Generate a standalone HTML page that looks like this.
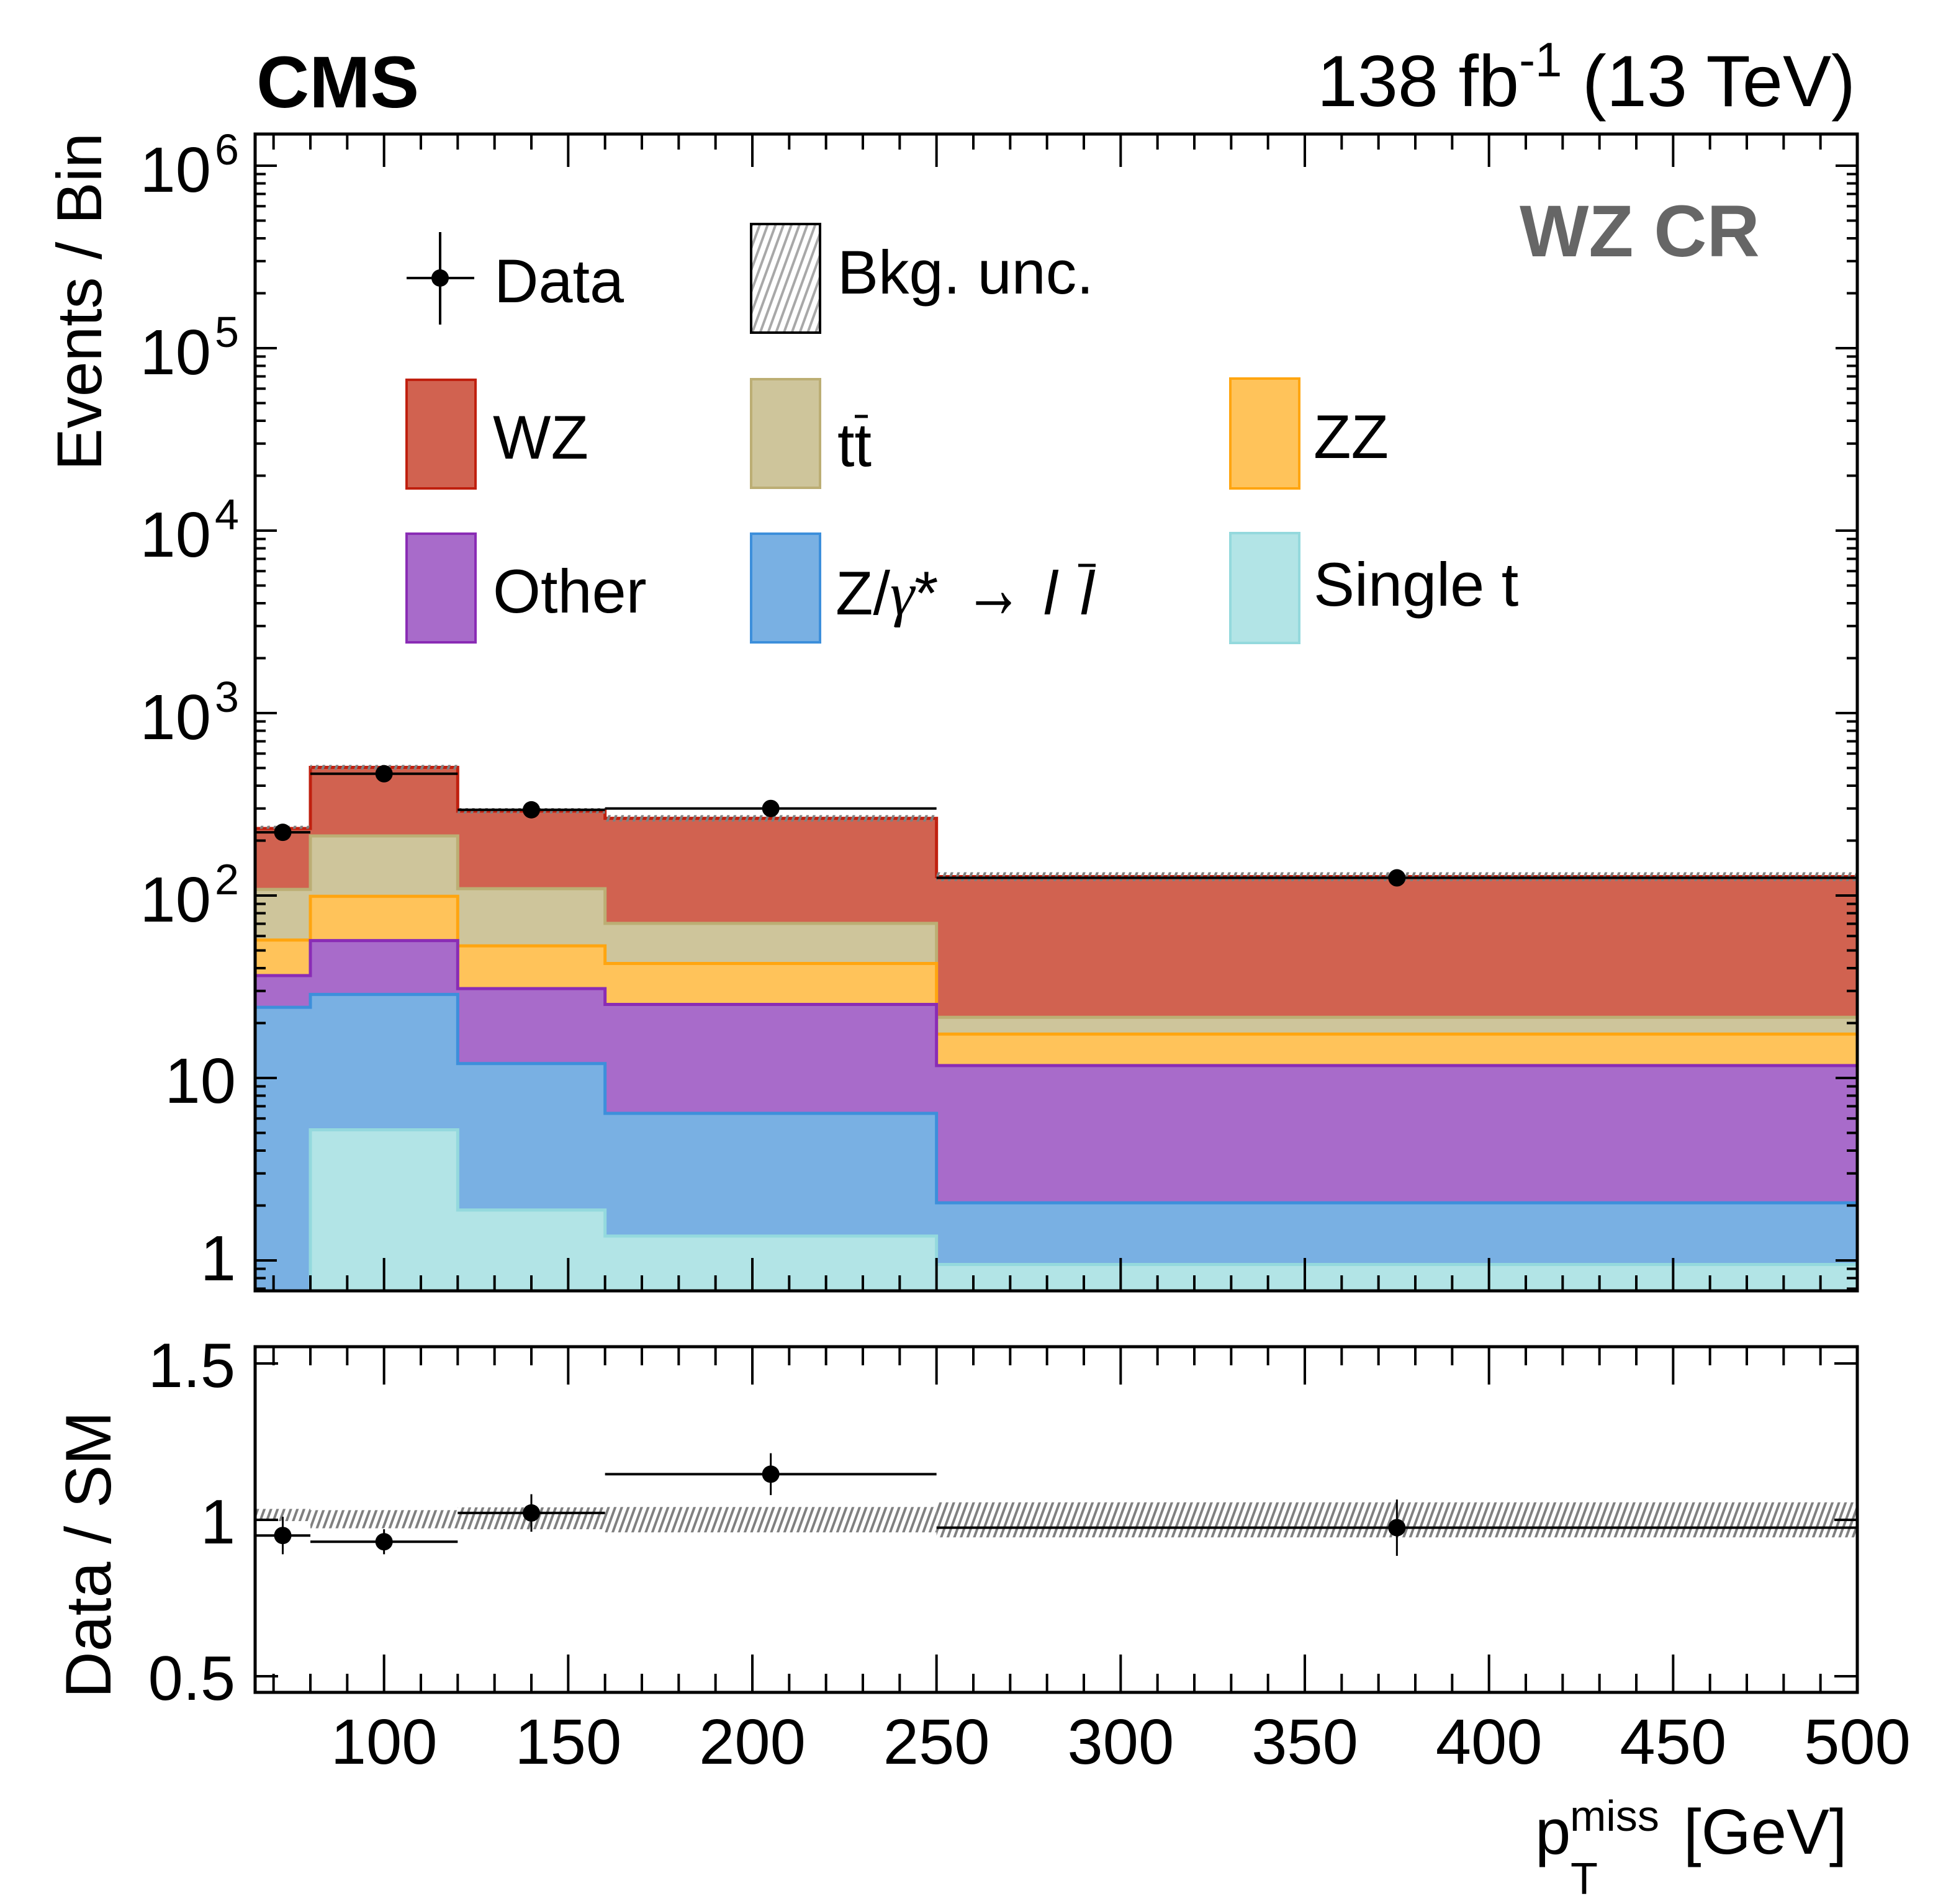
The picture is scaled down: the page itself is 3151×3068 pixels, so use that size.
<!DOCTYPE html>
<html><head><meta charset="utf-8"><title>WZ CR pTmiss</title>
<style>html,body{margin:0;padding:0;background:#fff;}svg{display:block;}text{font-family:"Liberation Sans",sans-serif;}</style>
</head><body>
<svg id="chart" xmlns="http://www.w3.org/2000/svg" width="3151" height="3068" viewBox="0 0 3151 3068">
<defs>
<pattern id="hatch" patternUnits="userSpaceOnUse" width="10" height="10" patternTransform="rotate(20)">
<rect width="10" height="10" fill="none"/><line x1="2" y1="0" x2="2" y2="10" stroke="#808080" stroke-width="4"/>
</pattern>
<pattern id="hatchL" patternUnits="userSpaceOnUse" width="12" height="12" patternTransform="rotate(20)">
<rect width="12" height="12" fill="#fff"/><line x1="2" y1="0" x2="2" y2="12" stroke="#a8a8a8" stroke-width="4"/>
</pattern>
<clipPath id="mainClip"><rect x="411" y="216" width="2581" height="1864"/></clipPath>
<clipPath id="ratioClip"><rect x="411" y="2170" width="2581" height="557"/></clipPath>
</defs>
<g id="stack" clip-path="url(#mainClip)"></g>
<g id="mainData"></g>
<g id="ratio" clip-path="url(#ratioClip)"></g>
<g id="axes"></g>

<text x="413" y="173" font-size="118" font-weight="bold">CMS</text>
<text x="2989" y="171" font-size="117" text-anchor="end">138 fb<tspan dy="-48" font-size="78">-1</tspan><tspan dy="48"> (13 TeV)</tspan></text>
<text x="2448" y="413" font-size="118" font-weight="bold" fill="#666">WZ CR</text>
<text transform="translate(163,214) rotate(-90)" font-size="102" text-anchor="end">Events / Bin</text>
<text transform="translate(178,2274) rotate(-90)" font-size="104" text-anchor="end">Data / SM</text>
<g>
<text x="2473" y="2987" font-size="103">p</text>
<text x="2529" y="2950" font-size="70">miss</text>
<text x="2530" y="3052" font-size="72">T</text>
<text x="2712" y="2987" font-size="103">[GeV]</text>
</g>

<g id="legend">
<g>
<line x1="655" y1="448" x2="764" y2="448" stroke="#000" stroke-width="4"/>
<line x1="709" y1="374" x2="709" y2="523" stroke="#000" stroke-width="4"/>
<circle cx="709" cy="448" r="14" fill="#000"/>
<text x="796" y="487" font-size="99">Data</text>
</g>
<g>
<rect x="1210" y="361" width="111" height="175" fill="url(#hatchL)" stroke="#000" stroke-width="4"/>
<text x="1349" y="473" font-size="99">Bkg. unc.</text>
</g>
<g>
<rect x="655" y="612" width="111" height="175" fill="#d16250" stroke="#c0200f" stroke-width="4"/>
<text x="794" y="739" font-size="99">WZ</text>
</g>
<g>
<rect x="1210" y="611" width="111" height="175" fill="#cec59b" stroke="#bcae74" stroke-width="4"/>
<text x="1349" y="751" font-size="99">tt</text>
<line x1="1377" y1="671" x2="1398" y2="671" stroke="#000" stroke-width="5"/>
</g>
<g>
<rect x="1982" y="610" width="111" height="177" fill="#ffc35a" stroke="#ffa510" stroke-width="4"/>
<text x="2116" y="738" font-size="99">ZZ</text>
</g>
<g>
<rect x="655" y="860" width="111" height="175" fill="#a86bca" stroke="#8a2cb5" stroke-width="4"/>
<text x="794" y="987" font-size="99">Other</text>
</g>
<g>
<rect x="1210" y="860" width="111" height="175" fill="#79b0e3" stroke="#3d8fdb" stroke-width="4"/>
<text x="1346" y="990" font-size="99">Z/<tspan font-family="Liberation Serif, serif" font-style="italic">γ</tspan>*</text>
<text x="1553" y="995" font-size="140" font-family="DejaVu Sans, sans-serif" textLength="95" lengthAdjust="spacingAndGlyphs">→</text>
<text x="1681" y="990" font-size="99" font-family="Liberation Serif, serif" font-style="italic">l</text>
<text x="1740" y="990" font-size="99" font-family="Liberation Serif, serif" font-style="italic">l</text>
<line x1="1737" y1="911" x2="1765" y2="911" stroke="#000" stroke-width="5"/>
</g>
<g>
<rect x="1982" y="859" width="111" height="177" fill="#b2e4e6" stroke="#94d9dd" stroke-width="4"/>
<text x="2116" y="976" font-size="99">Single t</text>
</g>
</g>

<script>
// ---- data ----
const binEdges = [65, 80, 120, 160, 250, 500];
const singleT = [0.3, 5.2, 1.89, 1.36, 0.95];
const dyll    = [24.4, 28.7, 12.0, 6.4, 2.07];
const other   = [36.4, 56.6, 30.9, 25.3, 11.7];
const zz      = [57, 99, 53, 42.4, 17.4];
const ttbar   = [108, 212, 109, 70.4, 21.5];
const wz      = [233, 504, 290, 265, 127];
const dataVals = [222, 465, 295, 300, 125];
const ratioVals = [0.95, 0.93, 1.022, 1.146, 0.975];
const ratioErr  = [0.06, 0.04, 0.06, 0.067, 0.09];
const uncHi = [1.035, 1.031, 1.04, 1.041, 1.056];
const uncLo = [0.996, 0.973, 0.97, 0.96, 0.944];
const xTicks = [100, 150, 200, 250, 300, 350, 400, 450, 500];
const yDecades = [0, 1, 2, 3, 4, 5, 6];
const ratioTicks = [0.5, 1, 1.5];
const ratioTickLabels = ["0.5", "1", "1.5"];

// ---- axis functions ----
const NS = "http://www.w3.org/2000/svg";
const L = 411, R = 2992, MT = 216, MB = 2080, RT = 2170, RB = 2727;
function X(v) { return L + (v - 65) * (R - L) / 435; }
function Y(v) { return 267 + (6 - Math.log10(Math.max(v, 1e-3))) * 294; }
function RY(v) { return 2449 - (v - 1) * 504; }
function mk(tag, attrs, parent) {
  const e = document.createElementNS(NS, tag);
  for (const k in attrs) e.setAttribute(k, attrs[k]);
  parent.appendChild(e); return e;
}
const stackG = document.getElementById('stack');
const dataG = document.getElementById('mainData');
const ratioG = document.getElementById('ratio');
const axesG = document.getElementById('axes');

const layers = [
  {name: 'wz', vals: wz, fill: '#d16250', stroke: '#c0200f'},
  {name: 'ttbar', vals: ttbar, fill: '#cec59b', stroke: '#bcae74'},
  {name: 'zz', vals: zz, fill: '#ffc35a', stroke: '#ffa510'},
  {name: 'other', vals: other, fill: '#a86bca', stroke: '#8a2cb5'},
  {name: 'dy', vals: dyll, fill: '#79b0e3', stroke: '#3d8fdb'},
  {name: 'single-t', vals: singleT, fill: '#b2e4e6', stroke: '#94d9dd'}
];
layers.forEach(function (ly) {
  let d = 'M' + X(binEdges[0]) + ',' + (MB + 10);
  for (let i = 0; i < ly.vals.length; i++) {
    d += ' L' + X(binEdges[i]) + ',' + Y(ly.vals[i]) + ' L' + X(binEdges[i + 1]) + ',' + Y(ly.vals[i]);
  }
  d += ' L' + X(binEdges[binEdges.length - 1]) + ',' + (MB + 10) + ' Z';
  const p = mk('path', {d: d, fill: ly.fill, stroke: ly.stroke, 'stroke-width': 5}, stackG);
  
  
});
for (let i = 0; i < wz.length; i++) {
  const r = mk('rect', {x: X(binEdges[i]), y: Y(wz[i] * uncHi[i]), width: X(binEdges[i + 1]) - X(binEdges[i]), height: Y(wz[i] * uncLo[i]) - Y(wz[i] * uncHi[i]), fill: 'url(#hatch)'}, stackG);
  
  
}
for (let i = 0; i < dataVals.length; i++) {
  const cx = X((binEdges[i] + binEdges[i + 1]) / 2), cy = Y(dataVals[i]);
  const g = mk('g', {}, dataG);
  
  
  const e = Math.sqrt(dataVals[i]);
  mk('line', {x1: X(binEdges[i]), x2: X(binEdges[i + 1]), y1: cy, y2: cy, stroke: '#000', 'stroke-width': 4}, g);
  mk('line', {x1: cx, x2: cx, y1: Y(dataVals[i] + e), y2: Y(dataVals[i] - e), stroke: '#000', 'stroke-width': 4}, g);
  mk('circle', {cx: cx, cy: cy, r: 14, fill: '#000'}, g);
}
for (let i = 0; i < ratioVals.length; i++) {
  const b = mk('rect', {x: X(binEdges[i]), y: RY(uncHi[i]), width: X(binEdges[i + 1]) - X(binEdges[i]), height: RY(uncLo[i]) - RY(uncHi[i]), fill: 'url(#hatch)'}, ratioG);
  
  
}
for (let i = 0; i < ratioVals.length; i++) {
  const cx = X((binEdges[i] + binEdges[i + 1]) / 2), cy = RY(ratioVals[i]);
  const g = mk('g', {}, ratioG);
  
  
  mk('line', {x1: X(binEdges[i]), x2: X(binEdges[i + 1]), y1: cy, y2: cy, stroke: '#000', 'stroke-width': 4}, g);
  mk('line', {x1: cx, x2: cx, y1: RY(ratioVals[i] + ratioErr[i]), y2: RY(ratioVals[i] - ratioErr[i]), stroke: '#000', 'stroke-width': 3}, g);
  mk('circle', {cx: cx, cy: cy, r: 14, fill: '#000'}, g);
}
const f1 = mk('rect', {x: L, y: MT, width: R - L, height: MB - MT, fill: 'none', stroke: '#000', 'stroke-width': 5}, axesG);


const f2 = mk('rect', {x: L, y: RT, width: R - L, height: RB - RT, fill: 'none', stroke: '#000', 'stroke-width': 5}, axesG);


for (let v = 70; v <= 500; v += 10) {
  const major = (v % 50 === 0);
  const x = X(v);
  mk('line', {x1: x, x2: x, y1: MB, y2: MB - (major ? 53 : 25), stroke: '#000', 'stroke-width': 4}, axesG);
  mk('line', {x1: x, x2: x, y1: MT, y2: MT + (major ? 53 : 25), stroke: '#000', 'stroke-width': 4}, axesG);
  mk('line', {x1: x, x2: x, y1: RB, y2: RB - (major ? 61 : 30), stroke: '#000', 'stroke-width': 4}, axesG);
  mk('line', {x1: x, x2: x, y1: RT, y2: RT + (major ? 61 : 30), stroke: '#000', 'stroke-width': 4}, axesG);
}
xTicks.forEach(function (v) {
  const t = mk('text', {x: X(v), y: 2842, 'font-size': 103, 'text-anchor': 'middle'}, axesG);
  t.textContent = String(v);
  
  
});
for (let d = -1; d <= 6; d++) {
  for (let m = 1; m <= 9; m++) {
    const v = m * Math.pow(10, d);
    const y = Y(v);
    if (y < MT || y > MB) continue;
    const len = m === 1 ? 35 : 17;
    mk('line', {x1: L, x2: L + len, y1: y, y2: y, stroke: '#000', 'stroke-width': 4}, axesG);
    mk('line', {x1: R, x2: R - len, y1: y, y2: y, stroke: '#000', 'stroke-width': 4}, axesG);
  }
}
yDecades.forEach(function (d) {
  const y = Y(Math.pow(10, d));
  const t = mk('text', {'font-size': 103, 'text-anchor': 'end'}, axesG);
  
  
  if (d === 0) { t.setAttribute('x', 380); t.setAttribute('y', y + 32); t.textContent = '1'; }
  else if (d === 1) { t.setAttribute('x', 380); t.setAttribute('y', y + 40); t.textContent = '10'; }
  else {
    t.setAttribute('x', 340); t.setAttribute('y', y + 42); t.textContent = '10';
    const s = mk('text', {x: 346, y: y - 2, 'font-size': 70}, axesG);
    s.textContent = String(d);
    
    
  }
});
ratioTicks.forEach(function (v, i) {
  const y = RY(v);
  mk('line', {x1: L, x2: L + 37, y1: y, y2: y, stroke: '#000', 'stroke-width': 4}, axesG);
  mk('line', {x1: R, x2: R - 37, y1: y, y2: y, stroke: '#000', 'stroke-width': 4}, axesG);
  const t = mk('text', {x: 379, y: y + 38, 'font-size': 101, 'text-anchor': 'end'}, axesG);
  t.textContent = ratioTickLabels[i];
  
  
});
</script>
</svg>
</body></html>
